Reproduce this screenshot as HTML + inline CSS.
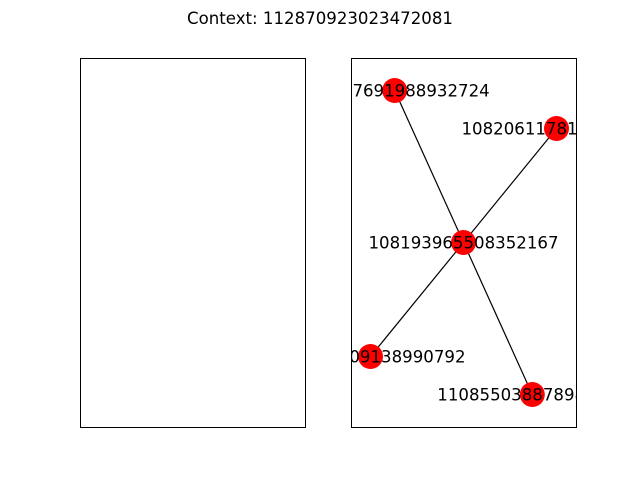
<!DOCTYPE html>
<html><head><meta charset="utf-8"><style>body{margin:0;background:#fff}svg{display:block}</style></head>
<body>
<svg width="640" height="480" viewBox="0 0 640 480" font-family="DejaVu Sans, Liberation Sans, sans-serif">
<rect width="640" height="480" fill="#fff"/>
<text x="320" y="24" text-anchor="middle" font-size="16.6">Context: 112870923023472081</text>
<rect x="80.5" y="58.5" width="225" height="369" fill="none" stroke="#000"/>
<defs><clipPath id="c"><rect x="351" y="58" width="225" height="369"/></clipPath></defs>
<g id="graph" clip-path="url(#c)"></g>
<rect x="351.5" y="58.5" width="225" height="369" fill="none" stroke="#000"/>
</svg>
<script>
const nodeLabels = ["108957691988932724", "108206117812345678", "108193965508352167", "110291709138990792", "110855038878981234"];
const nodeX = [-0.74, 1.0, 0.0, -1.0, 0.74];
const nodeY = [1.0, 0.75, 0.0, -0.75, -1.0];
const edgeFrom = [2, 2, 2, 2];
const edgeTo = [0, 1, 3, 4];
const sx = v => 463.5 + v * 93;
const sy = v => 242.5 - v * 152;
const g = document.getElementById('graph');
const NS = 'http://www.w3.org/2000/svg';
for (let i = 0; i < edgeFrom.length; i++) {
  const l = document.createElementNS(NS, 'line');
  l.setAttribute('x1', sx(nodeX[edgeFrom[i]])); l.setAttribute('y1', sy(nodeY[edgeFrom[i]]));
  l.setAttribute('x2', sx(nodeX[edgeTo[i]])); l.setAttribute('y2', sy(nodeY[edgeTo[i]]));
  l.setAttribute('stroke', '#000'); l.setAttribute('stroke-width', '1.2');
  
  
  g.appendChild(l);
}
for (let i = 0; i < nodeLabels.length; i++) {
  const c = document.createElementNS(NS, 'circle');
  c.setAttribute('cx', sx(nodeX[i])); c.setAttribute('cy', sy(nodeY[i])); c.setAttribute('r', 12.5);
  c.setAttribute('fill', '#ff0000');
  
  
  g.appendChild(c);
}
for (let i = 0; i < nodeLabels.length; i++) {
  const t = document.createElementNS(NS, 'text');
  t.setAttribute('x', sx(nodeX[i])); t.setAttribute('y', sy(nodeY[i]) + 6);
  t.setAttribute('text-anchor', 'middle'); t.setAttribute('font-size', '16.6');
  t.textContent = nodeLabels[i];
  
  
  g.appendChild(t);
}
</script>
</body></html>
